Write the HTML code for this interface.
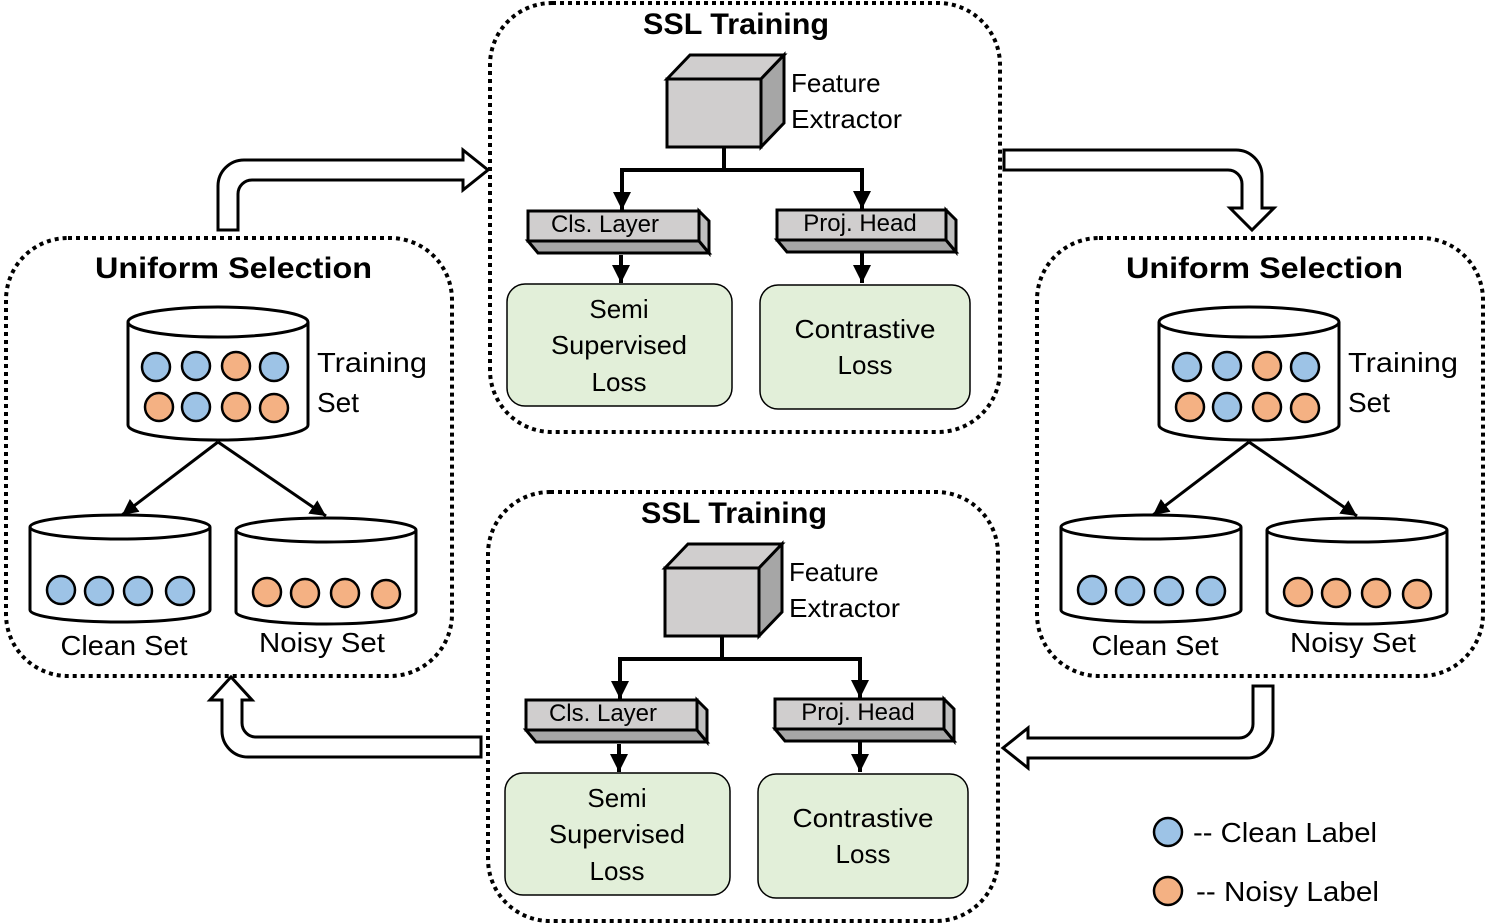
<!DOCTYPE html>
<html><head><meta charset="utf-8"><style>html,body{margin:0;padding:0;background:#fff}svg{display:block}text{font-family:"Liberation Sans",sans-serif;fill:#000}</style></head><body>
<svg width="1486" height="924" viewBox="0 0 1486 924" xmlns="http://www.w3.org/2000/svg">
<defs>
<marker id="ah" markerWidth="18" markerHeight="18" refX="8" refY="4" orient="auto" markerUnits="userSpaceOnUse" viewBox="0 0 8 8"><path d="M0,0 L8,4 L0,8 Z" fill="#000"/></marker>
<marker id="ah2" markerWidth="16" markerHeight="16" refX="8" refY="4" orient="auto" markerUnits="userSpaceOnUse" viewBox="0 0 8 8"><path d="M0,0 L8,4 L0,8 Z" fill="#000"/></marker>
<g id="uni">
<rect x="6" y="238" width="446" height="438" rx="62" fill="none" stroke="#000" stroke-width="4" stroke-dasharray="4 4"/>
<text x="95" y="278" font-size="30" font-weight="bold" textLength="277" lengthAdjust="spacingAndGlyphs">Uniform Selection</text>
<path d="M128,322 L128,425 A90,15 0 0 0 308,425 L308,322" fill="#fff" stroke="#000" stroke-width="3"/>
<ellipse cx="218" cy="322" rx="90" ry="15" fill="#fff" stroke="#000" stroke-width="3"/>
<g stroke="#000" stroke-width="2.5">
<circle cx="156" cy="367" r="14" fill="#9dc3e6"/><circle cx="196" cy="366" r="14" fill="#9dc3e6"/><circle cx="236" cy="366" r="14" fill="#f4b183"/><circle cx="274" cy="367" r="14" fill="#9dc3e6"/>
<circle cx="159" cy="407" r="14" fill="#f4b183"/><circle cx="196" cy="407" r="14" fill="#9dc3e6"/><circle cx="236" cy="407" r="14" fill="#f4b183"/><circle cx="274" cy="408" r="14" fill="#f4b183"/>
</g>
<text x="317" y="372" font-size="28" textLength="110" lengthAdjust="spacingAndGlyphs">Training</text>
<text x="317" y="412" font-size="28">Set</text>
<line x1="218" y1="442" x2="122" y2="515" stroke="#000" stroke-width="3" marker-end="url(#ah2)"/>
<line x1="218" y1="442" x2="326" y2="516" stroke="#000" stroke-width="3" marker-end="url(#ah2)"/>
<path d="M30,527 L30,610 A90,12 0 0 0 210,610 L210,527" fill="#fff" stroke="#000" stroke-width="3"/>
<ellipse cx="120" cy="527" rx="90" ry="12" fill="#fff" stroke="#000" stroke-width="3"/>
<path d="M236,530 L236,612 A90,12 0 0 0 416,612 L416,530" fill="#fff" stroke="#000" stroke-width="3"/>
<ellipse cx="326" cy="530" rx="90" ry="12" fill="#fff" stroke="#000" stroke-width="3"/>
<g stroke="#000" stroke-width="2.5">
<circle cx="61" cy="590" r="14" fill="#9dc3e6"/><circle cx="99" cy="591" r="14" fill="#9dc3e6"/><circle cx="138" cy="591" r="14" fill="#9dc3e6"/><circle cx="180" cy="591" r="14" fill="#9dc3e6"/>
<circle cx="267" cy="592" r="14" fill="#f4b183"/><circle cx="305" cy="593" r="14" fill="#f4b183"/><circle cx="345" cy="593" r="14" fill="#f4b183"/><circle cx="386" cy="594" r="14" fill="#f4b183"/>
</g>
<text x="124" y="655" font-size="28" text-anchor="middle" textLength="127" lengthAdjust="spacingAndGlyphs">Clean Set</text>
<text x="322" y="652" font-size="28" text-anchor="middle" textLength="126" lengthAdjust="spacingAndGlyphs">Noisy Set</text>
</g>
<g id="ssl">
<rect x="490" y="3" width="510" height="429" rx="62" fill="none" stroke="#000" stroke-width="4" stroke-dasharray="4 4"/>
<text x="736" y="34" font-size="30" font-weight="bold" text-anchor="middle" textLength="186" lengthAdjust="spacingAndGlyphs">SSL Training</text>
<path d="M667,79 L690,55 L784,55 L761,79 Z" fill="#d0cece" stroke="#000" stroke-width="3"/>
<path d="M761,79 L784,55 L784,123 L761,147 Z" fill="#a6a6a6" stroke="#000" stroke-width="3"/>
<rect x="667" y="79" width="94" height="68" fill="#d0cece" stroke="#000" stroke-width="3"/>
<text x="791" y="92" font-size="26">Feature</text>
<text x="791" y="128" font-size="26" textLength="111" lengthAdjust="spacingAndGlyphs">Extractor</text>
<path d="M724,147 L724,170 M622,170 L862,170" stroke="#000" stroke-width="4" fill="none"/>
<line x1="622" y1="168" x2="622" y2="210" stroke="#000" stroke-width="4" marker-end="url(#ah)"/>
<line x1="862" y1="168" x2="862" y2="209" stroke="#000" stroke-width="4" marker-end="url(#ah)"/>
<path d="M528,241 L538,253 L709,253 L699,241 Z" fill="#a6a6a6" stroke="#000" stroke-width="3"/>
<path d="M699,211 L709,221 L709,253 L699,241 Z" fill="#bfbfbf" stroke="#000" stroke-width="3"/>
<rect x="528" y="211" width="171" height="30" fill="#d0cece" stroke="#000" stroke-width="3"/>
<text x="605" y="232" font-size="24" text-anchor="middle">Cls. Layer</text>
<path d="M777,240 L787,252 L956,252 L946,240 Z" fill="#a6a6a6" stroke="#000" stroke-width="3"/>
<path d="M946,210 L956,220 L956,252 L946,240 Z" fill="#bfbfbf" stroke="#000" stroke-width="3"/>
<rect x="777" y="210" width="169" height="30" fill="#d0cece" stroke="#000" stroke-width="3"/>
<text x="860" y="231" font-size="24" text-anchor="middle">Proj. Head</text>
<line x1="621" y1="255" x2="621" y2="283" stroke="#000" stroke-width="4" marker-end="url(#ah)"/>
<line x1="862" y1="253" x2="862" y2="283" stroke="#000" stroke-width="4" marker-end="url(#ah)"/>
<rect x="507" y="284" width="225" height="122" rx="18" fill="#e2efd9" stroke="#000" stroke-width="1.5"/>
<rect x="760" y="285" width="210" height="124" rx="18" fill="#e2efd9" stroke="#000" stroke-width="1.5"/>
<g font-size="26" text-anchor="middle">
<text x="619" y="318">Semi</text><text x="619" y="354" textLength="136" lengthAdjust="spacingAndGlyphs">Supervised</text><text x="619" y="391">Loss</text>
<text x="865" y="338" textLength="141" lengthAdjust="spacingAndGlyphs">Contrastive</text><text x="865" y="374">Loss</text>
</g>
</g>
</defs>
<use href="#uni"/>
<use href="#uni" transform="translate(1031,0)"/>
<use href="#ssl"/>
<use href="#ssl" transform="translate(-2,489)"/>
<g fill="#fff" stroke="#000" stroke-width="3" stroke-linejoin="miter">
<path d="M218,230 L218,186 A26,26 0 0 1 244,160 L463,160 L463,150 L488,170 L463,190 L463,180 L252,180 A14,14 0 0 0 238,194 L238,230 Z"/>
<path d="M1004,150 L1236,150 A26,26 0 0 1 1262,176 L1262,208 L1274,208 L1252,230 L1230,208 L1242,208 L1242,184 A14,14 0 0 0 1228,170 L1004,170 Z"/>
<path d="M1253,686 L1273,686 L1273,732 A26,26 0 0 1 1247,758 L1028,758 L1028,768 L1003,748 L1028,728 L1028,738 L1239,738 A14,14 0 0 0 1253,724 Z"/>
<path d="M481,737 L256,737 A14,14 0 0 1 242,723 L242,700 L252,700 L231,677 L210,700 L222,700 L222,731 A26,26 0 0 0 248,757 L481,757 Z"/>
</g>
<circle cx="1168" cy="832" r="14" fill="#9dc3e6" stroke="#000" stroke-width="2.5"/>
<circle cx="1168" cy="891" r="14" fill="#f4b183" stroke="#000" stroke-width="2.5"/>
<text x="1193" y="842" font-size="28" textLength="184" lengthAdjust="spacingAndGlyphs">-- Clean Label</text>
<text x="1196" y="901" font-size="28" textLength="183" lengthAdjust="spacingAndGlyphs">-- Noisy Label</text>
</svg>
</body></html>
